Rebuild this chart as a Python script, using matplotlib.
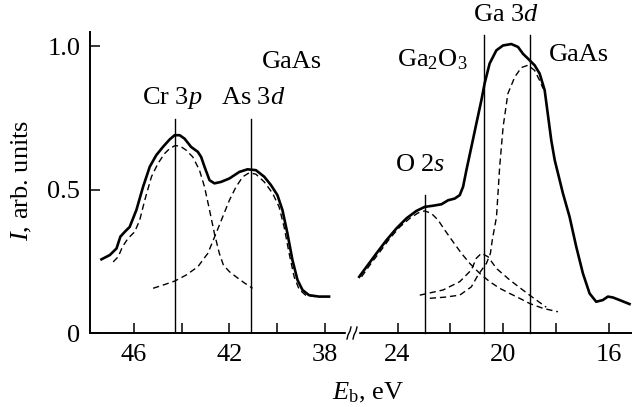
import matplotlib
matplotlib.use('Agg')
import matplotlib.pyplot as plt
from matplotlib.lines import Line2D

plt.rcParams['font.family'] = ['Liberation Serif', 'DejaVu Serif']
plt.rcParams['mathtext.fontset'] = 'custom'
plt.rcParams['mathtext.rm'] = 'Liberation Serif'
plt.rcParams['mathtext.it'] = 'Liberation Serif:italic'
plt.rcParams['mathtext.bf'] = 'Liberation Serif:bold'

# ---- left panel (Cr 3p / As 3d) ----
left_total_x = [47.35, 47.0, 46.72, 46.56, 46.375, 46.17, 45.89, 45.61, 45.33, 45.06, 44.78,
                44.5, 44.29, 44.08, 43.875, 43.6, 43.32, 43.18, 43.04, 42.83, 42.625, 42.35,
                42.0, 41.58, 41.24, 40.89, 40.54, 40.26, 39.99, 39.78, 39.57, 39.36, 39.15,
                38.94, 38.67, 38.25, 37.83]
left_total_y = [0.257, 0.272, 0.295, 0.336, 0.353, 0.370, 0.429, 0.510, 0.580, 0.620, 0.649,
                0.675, 0.690, 0.690, 0.678, 0.649, 0.632, 0.614, 0.580, 0.533, 0.522, 0.527,
                0.539, 0.562, 0.571, 0.568, 0.545, 0.516, 0.481, 0.429, 0.347, 0.254, 0.185,
                0.150, 0.132, 0.127, 0.127]

cr3p_x = [46.86, 46.65, 46.47, 46.24, 45.96, 45.75, 45.54, 45.26, 44.99, 44.71, 44.5, 44.29,
          44.08, 43.81, 43.53, 43.25, 43.04, 42.83, 42.625, 42.42, 42.25, 42.0, 41.72, 41.375, 41.03]
cr3p_y = [0.248, 0.266, 0.301, 0.330, 0.353, 0.394, 0.463, 0.545, 0.591, 0.626, 0.643, 0.653,
          0.653, 0.638, 0.614, 0.568, 0.510, 0.429, 0.347, 0.278, 0.237, 0.214, 0.196, 0.175, 0.156]

as3d_x = [45.19, 44.78, 44.29, 43.81, 43.32, 42.90, 42.56, 42.28, 42.0, 41.72, 41.44, 41.17,
          40.89, 40.54, 40.19, 39.92, 39.71, 39.5, 39.29, 39.08, 38.81, 38.4]
as3d_y = [0.156, 0.167, 0.181, 0.202, 0.231, 0.278, 0.347, 0.405, 0.463, 0.510, 0.545, 0.559,
          0.554, 0.527, 0.487, 0.440, 0.370, 0.278, 0.196, 0.152, 0.132, 0.127]

# ---- right panel (O 2s / Ga 3d) ----
right_total_x = [25.448, 25.171, 24.794, 24.416, 24.039, 23.662, 23.284, 22.970, 22.655, 22.341,
                 22.089, 21.838, 21.649, 21.523, 21.397, 21.209, 21.020, 20.831, 20.71, 20.52,
                 20.265, 20.014, 19.70, 19.448, 19.259, 19.07, 18.82, 18.63, 18.44, 18.19,
                 18.06, 17.750, 17.498, 17.247, 16.995, 16.743, 16.492, 16.240, 16.052, 15.863,
                 15.611, 15.234]
right_total_y = [0.196, 0.231, 0.278, 0.324, 0.365, 0.400, 0.426, 0.440, 0.444, 0.449,
                 0.463, 0.469, 0.481, 0.510, 0.568, 0.649, 0.731, 0.812, 0.870, 0.940,
                 0.986, 1.003, 1.008, 0.998, 0.974, 0.957, 0.934, 0.905, 0.847, 0.672,
                 0.603, 0.487, 0.405, 0.301, 0.208, 0.138, 0.109, 0.115, 0.127, 0.124,
                 0.115, 0.101]

o2s_x = [25.36, 25.045, 24.668, 24.29, 23.913, 23.536, 23.221, 22.97, 22.718, 22.467, 22.215,
         21.9, 21.586, 21.272, 20.894, 20.517, 20.14, 19.762, 19.385, 19.008, 18.505, 17.94]
o2s_y = [0.196, 0.237, 0.283, 0.330, 0.370, 0.400, 0.419, 0.426, 0.417, 0.394, 0.359,
         0.318, 0.278, 0.243, 0.208, 0.179, 0.156, 0.138, 0.121, 0.103, 0.086, 0.074]

ga2o3_x = [23.16, 22.28, 21.65, 21.21, 21.02, 20.83, 20.58, 20.26, 19.76, 19.01, 18.38]
ga2o3_y = [0.132, 0.150, 0.179, 0.220, 0.261, 0.278, 0.266, 0.225, 0.185, 0.132, 0.090]

gaas_x = [22.78, 22.22, 21.65, 21.21, 20.96, 20.64, 20.49, 20.42, 20.26, 20.14, 20.01,
          19.83, 19.57, 19.32, 19.07, 18.82, 18.63, 18.50]
gaas_y = [0.121, 0.125, 0.132, 0.161, 0.202, 0.243, 0.278, 0.324, 0.405, 0.580, 0.719,
          0.835, 0.893, 0.926, 0.934, 0.916, 0.881, 0.853]

# peak marker lines: (position, height)
left_marks = [(44.28, 0.746), (41.10, 0.746)]
right_marks = [(22.97, 0.48), (20.73, 1.04), (19.0, 1.04)]

left_ticks = [46, 44, 42, 40, 38]
left_labels = ['46', '', '42', '', '38']
right_ticks = [24, 22, 20, 18, 16]
right_labels = ['24', '', '20', '', '16']
y_ticks = [0, 0.5, 1.0]
y_labels = ['0', '0.5', '1.0']

W, H = 632, 407
fig = plt.figure(figsize=(W / 100, H / 100), dpi=100)

y0 = 74 / H
hh = (375 - 74) / H
ax1 = fig.add_axes([90 / W, y0, (352 - 90) / W, hh])
ax2 = fig.add_axes([352 / W, y0, (632 - 352) / W, hh])

FS = 19
dash = dict(color='black', lw=1.0, dashes=(4.5, 2.8))
for ax in (ax1, ax2):
    ax.set_ylim(0, 1.05)
    for s in ('top', 'right'):
        ax.spines[s].set_visible(False)
    ax.spines['bottom'].set_linewidth(1.4)
    ax.spines['left'].set_linewidth(1.4)
    ax.tick_params(axis='both', direction='in', length=7, width=1.1,
                   labelsize=FS, pad=8)
    ax.set_facecolor('none')

ax1.set_xlim(47.83, 36.87)
ax2.set_xlim(25.72, 15.14)
ax2.spines['left'].set_visible(False)
ax2.tick_params(axis='y', left=False, labelleft=False)

ax1.set_xticks(left_ticks)
ax1.set_xticklabels(left_labels)
ax2.set_xticks(right_ticks)
ax2.set_xticklabels(right_labels)
ax1.set_yticks(y_ticks)
ax1.set_yticklabels(y_labels)
ax1.tick_params(axis='y', pad=7)

ax1.plot(left_total_x, left_total_y, color='black', lw=1.9, solid_joinstyle='round')
ax1.plot(cr3p_x, cr3p_y, **dash)
ax1.plot(as3d_x, as3d_y, **dash)
ax2.plot(right_total_x, right_total_y, color='black', lw=1.9, solid_joinstyle='round')
ax2.plot(o2s_x, o2s_y, **dash)
ax2.plot(ga2o3_x, ga2o3_y, **dash)
ax2.plot(gaas_x, gaas_y, **dash)

for x, h in left_marks:
    ax1.plot([x, x], [0, h], color='black', lw=1.0)
for x, h in right_marks:
    ax2.plot([x, x], [0, h], color='black', lw=1.0, clip_on=False)

ax1.text(44.375, 0.819, 'Cr 3$p$', fontsize=FS, ha='center', va='center')
ax1.text(41.0, 0.819, 'As 3$d$', fontsize=FS, ha='center', va='center')
ax1.text(39.375, 0.944, 'GaAs', fontsize=FS, ha='center', va='center')
ax2.text(19.91, 1.108, 'Ga 3$d$', fontsize=FS, ha='center', va='center', clip_on=False)
ax2.text(22.67, 0.955, 'Ga$_2$O$_3$', fontsize=FS, ha='center', va='center')
ax2.text(17.15, 0.969, 'GaAs', fontsize=FS, ha='center', va='center')
ax2.text(23.16, 0.585, 'O 2$s$', fontsize=FS, ha='center', va='center')

fig.text(22 / W, 1 - 180 / H, '$I$, arb. units', fontsize=FS, rotation=90,
         ha='center', va='center')
fig.text(368 / W, 1 - 393 / H, r'$E_{\mathrm{b}}$, eV', fontsize=FS,
         ha='center', va='center')

# axis break marker
bx, by = 352, 333
fig.patches.append(plt.Rectangle(((bx - 6) / W, 1 - (by + 3) / H), 12 / W, 6 / H,
                                 transform=fig.transFigure, color='white', zorder=5))
for dx in (-3, 3):
    xs = [bx + dx - 2, bx + dx - 1, bx + dx + 1, bx + dx + 2]
    ys = [by + 6, by + 2, by - 2, by - 6]
    fig.lines.append(Line2D([x / W for x in xs], [1 - y / H for y in ys],
                            transform=fig.transFigure, color='black', lw=1.0, zorder=6))

fig.savefig('out.png', dpi=100)
